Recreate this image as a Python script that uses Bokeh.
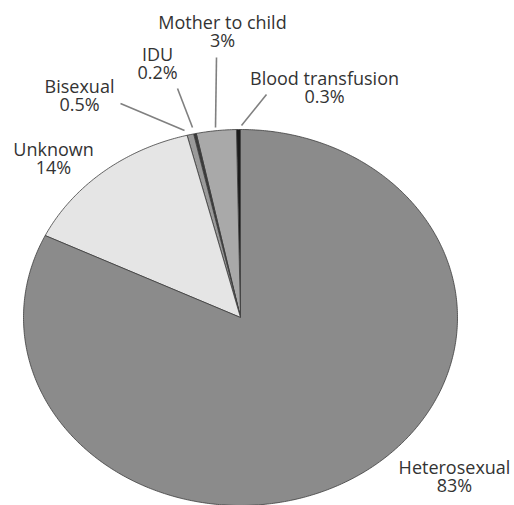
import numpy as np
from bokeh.plotting import figure
from bokeh.models import Range1d, ColumnDataSource
from bokeh.embed import file_html
from bokeh.resources import INLINE
from bokeh.core.properties import value

# ---- data ----
categories = ["Blood transfusion", "Mother to child", "IDU", "Bisexual", "Unknown", "Heterosexual"]
percents = [0.3, 3, 0.2, 0.5, 14, 83]
pct_labels = ["0.3%", "3%", "0.2%", "0.5%", "14%", "83%"]
colors = ["#1c1c1c", "#a9a9a9", "#3a3a3a", "#9a9a9a", "#e5e5e5", "#8b8b8b"]

# ---- layout (image pixel coordinates, y downward) ----
CX, CY, RX, RY = 240, 317, 217, 188
label_x = [324, 222, 157, 79, 53, 454]
label_y = [77, 21, 53, 85, 148, 466]
leader_start = [(266, 94), (216, 57), (177, 88), (120, 103), None, None]
leader_end = [(241, 125), (215, 127), (192, 127), (184, 130), None, None]

W, H = 514, 505
p = figure(width=W, height=H, output_backend="svg", toolbar_location=None,
           x_range=Range1d(0, W), y_range=Range1d(H, 0), min_border=0)
p.axis.visible = False
p.grid.visible = False
p.outline_line_color = None
p.background_fill_color = "white"

total = float(sum(percents))
fr = np.array(percents) / total
ends = np.cumsum(fr) * 2 * np.pi
starts = np.concatenate([[0.0], ends[:-1]])

xs, ys = [], []
for a0, a1 in zip(starts, ends):
    t = np.linspace(a0, a1, max(3, int((a1 - a0) / 0.01)))
    px = np.concatenate([[CX], CX - RX * np.sin(t), [CX]])
    py = np.concatenate([[CY], CY - RY * np.cos(t), [CY]])
    xs.append(list(px))
    ys.append(list(py))

src = ColumnDataSource(dict(xs=xs, ys=ys, color=colors, cat=categories))
p.patches("xs", "ys", source=src, fill_color="color", line_color="#3c3c3c", line_width=0.8)

# leader lines
for s, e in zip(leader_start, leader_end):
    if s is None:
        continue
    p.line([s[0], e[0]], [s[1], e[1]], line_color="#808080", line_width=1.6)

fs = "18px"
p.text(x=label_x, y=label_y, text=categories, text_align="center", text_baseline="middle",
       text_font=value("Open Sans"), text_font_size=fs, text_color="#333333")
p.text(x=label_x, y=[v + 18 for v in label_y], text=pct_labels, text_align="center",
       text_baseline="middle", text_font=value("Open Sans"), text_font_size=fs, text_color="#333333")

open("out.html", "w").write(file_html(p, INLINE))
